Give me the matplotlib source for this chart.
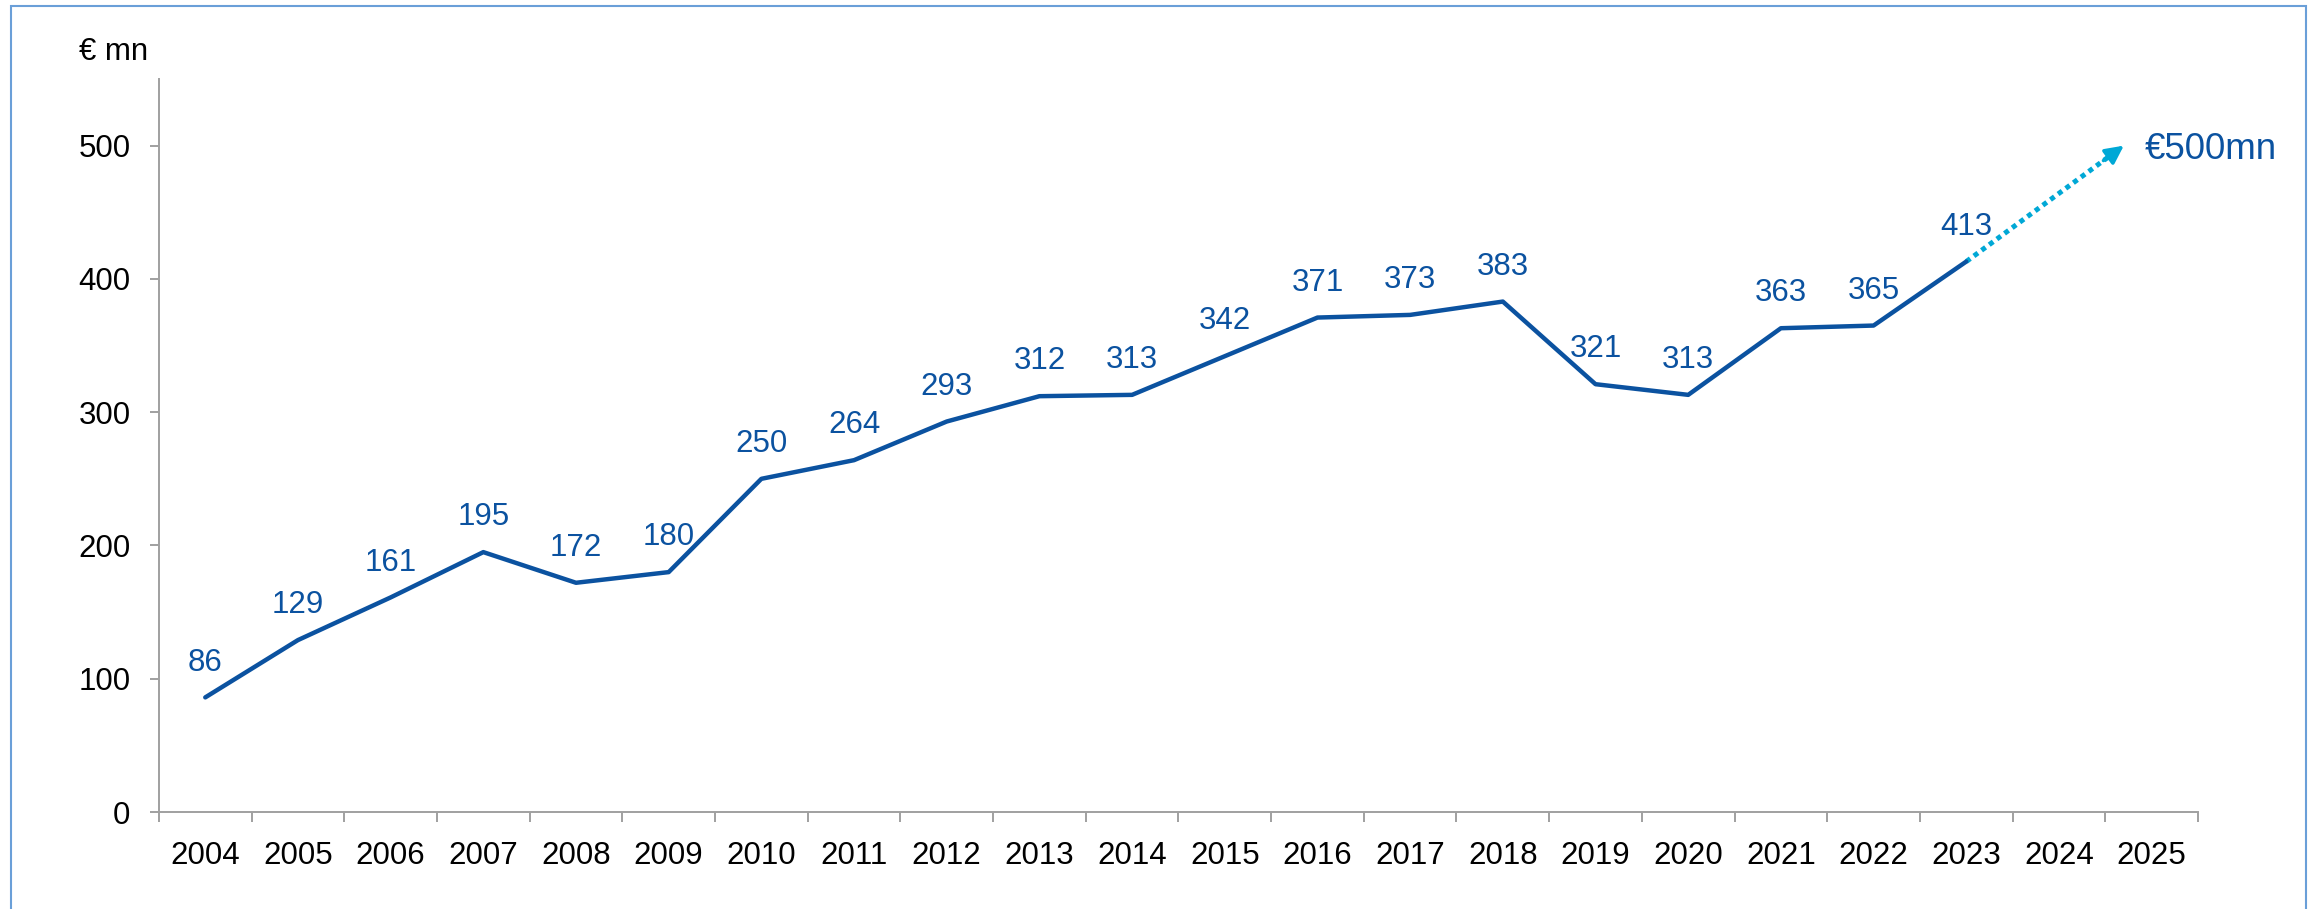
import matplotlib.pyplot as plt
import matplotlib.patches as patches

# Annual figures in € mn
years = ['2004', '2005', '2006', '2007', '2008', '2009', '2010', '2011', '2012', '2013',
         '2014', '2015', '2016', '2017', '2018', '2019', '2020', '2021', '2022', '2023',
         '2024', '2025']
values = [86, 129, 161, 195, 172, 180, 250, 264, 293, 312,
          313, 342, 371, 373, 383, 321, 313, 363, 365, 413]
target_pos = 20.7
target_value = 500
target_label = '€500mn'

plt.rcParams['font.family'] = ['Liberation Sans', 'DejaVu Sans']

dark_blue = '#0B52A0'
light_blue = '#00A8D6'
axis_grey = '#A0A0A0'

fig = plt.figure(figsize=(23.1, 9.09), dpi=100)
ax = fig.add_axes([0.0688, 0.1067, 0.8827, 0.8064])

x = list(range(len(values)))
ax.plot(x, values, color=dark_blue, lw=3.2, solid_capstyle='round', solid_joinstyle='round', zorder=3)

# value labels above each point
for xi, v in zip(x, values):
    ax.annotate(str(v), (xi, v), xytext=(0, 25), textcoords='offset points',
                ha='center', va='center', fontsize=22.5, color=dark_blue)

# dotted projection towards the target
last = len(values) - 1
frac = 0.9
mid_x = last + (target_pos - last) * frac
mid_y = values[-1] + (target_value - values[-1]) * frac
ax.plot([last, mid_x], [values[-1], mid_y], color=light_blue, lw=3.6,
        dashes=(1.0, 0.9), dash_capstyle='butt', zorder=2)
ax.annotate('', xy=(target_pos, target_value), xytext=(mid_x - 0.05, mid_y - 2.5),
            arrowprops=dict(arrowstyle='-|>,head_length=1.1,head_width=0.55',
                            color=light_blue, lw=2.5, shrinkA=0, shrinkB=0))
ax.text(target_pos + 0.23, target_value - 3, target_label, ha='left', va='center',
        fontsize=26.5, color=dark_blue, clip_on=False)

ax.set_xlim(-0.5, len(years) - 0.5)
ax.set_ylim(0, 550)
ax.set_xticks(range(len(years)))
ax.set_xticklabels(years)
ax.set_xticks([i - 0.5 for i in range(len(years) + 1)], minor=True)
ax.set_yticks(range(0, 501, 100))

ax.tick_params(axis='x', which='major', length=0, pad=21, labelsize=22.5)
ax.tick_params(axis='x', which='minor', length=7, width=1.4, color=axis_grey, direction='out')
ax.tick_params(axis='y', length=6.5, width=1.4, color=axis_grey, pad=14, labelsize=22.5)

for side in ['top', 'right']:
    ax.spines[side].set_visible(False)
for side in ['left', 'bottom']:
    ax.spines[side].set_color(axis_grey)
    ax.spines[side].set_linewidth(1.4)

fig.text(79 / 2310, 1 - 52 / 909, '€ mn', ha='left', va='center', fontsize=22.5)

# thin frame around the chart area
frame = patches.Rectangle((11 / 2310, -0.05), (2306 - 11) / 2310, 1.05 - 6 / 909,
                          transform=fig.transFigure, fill=False,
                          edgecolor='#6A9FD8', lw=1.5)
fig.patches.append(frame)

fig.savefig('out.png', dpi=100)
